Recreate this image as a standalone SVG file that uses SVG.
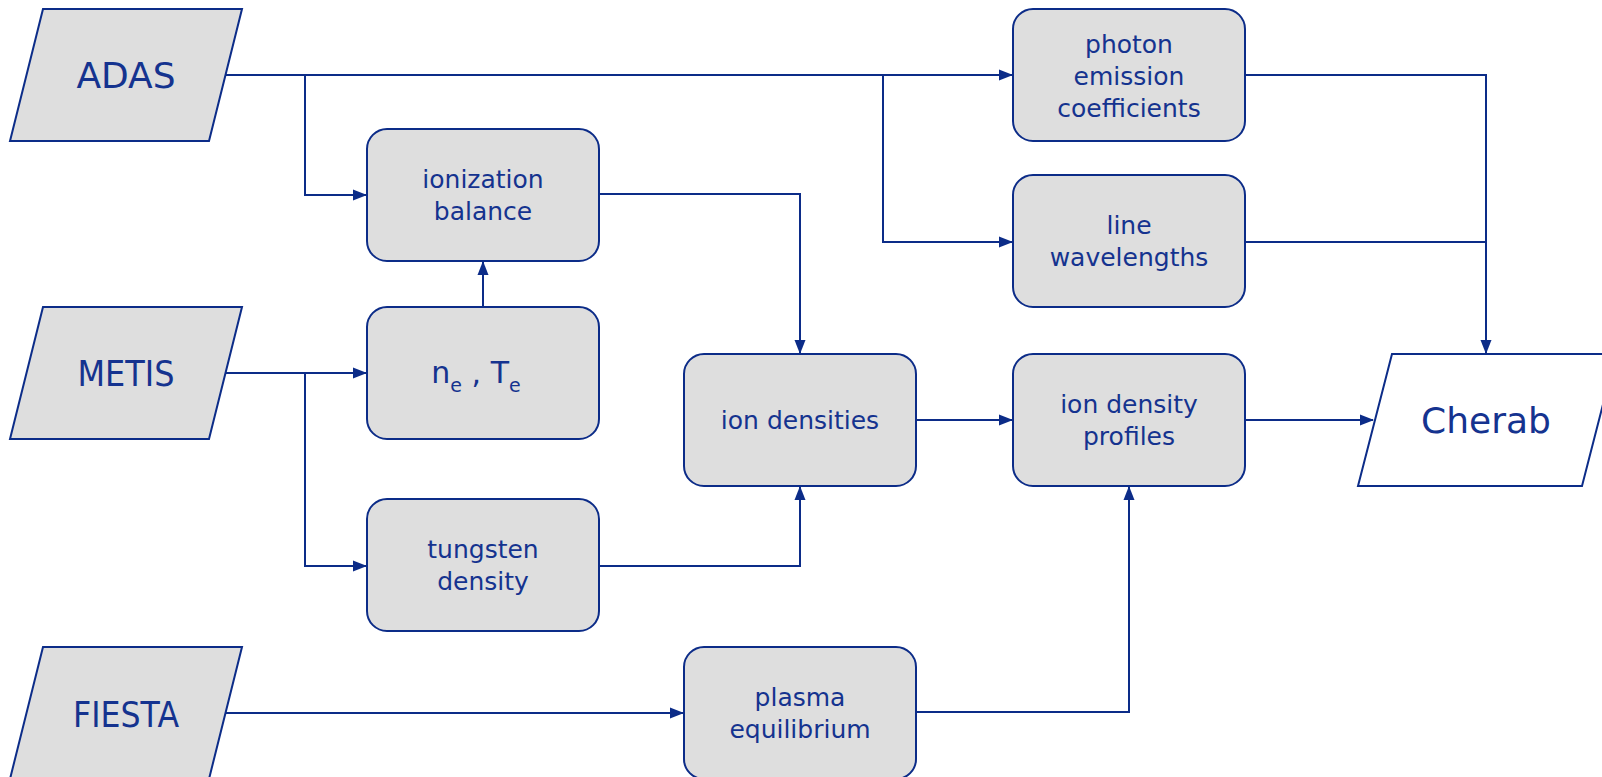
<svg xmlns="http://www.w3.org/2000/svg" width="1602" height="777" viewBox="0 0 1602 777">
<defs>
<style>
.box{fill:#dedede;stroke:#0c2c88;stroke-width:2}
.io{fill:#dedede;stroke:#0c2c88;stroke-width:2}
.out{fill:#ffffff;stroke:#0c2c88;stroke-width:2}
.t{font-family:"DejaVu Sans",sans-serif;font-size:25px;fill:#15338f;text-anchor:middle}
.big{font-family:"DejaVu Sans",sans-serif;font-size:36px;fill:#15338f;text-anchor:middle}
.c{fill:none;stroke:#0c2c88;stroke-width:2}
</style>
<marker id="ah" markerUnits="userSpaceOnUse" markerWidth="14" markerHeight="12" refX="13" refY="6" orient="auto">
<path d="M0,0.5 L14,6 L0,11.5 Z" fill="#0c2c88"/>
</marker>
</defs>
<rect width="1602" height="777" fill="#ffffff"/>

<g id="connectors">
<path class="c" d="M226,75 H1012" marker-end="url(#ah)"/>
<path class="c" d="M305,75 V195 H366" marker-end="url(#ah)"/>
<path class="c" d="M883,75 V242 H1012" marker-end="url(#ah)"/>
<path class="c" d="M599,194 H800 V353" marker-end="url(#ah)"/>
<path class="c" d="M483,307 V262" marker-end="url(#ah)"/>
<path class="c" d="M226,373 H366" marker-end="url(#ah)"/>
<path class="c" d="M305,373 V566 H366" marker-end="url(#ah)"/>
<path class="c" d="M599,566 H800 V487" marker-end="url(#ah)"/>
<path class="c" d="M916,420 H1012" marker-end="url(#ah)"/>
<path class="c" d="M226,713 H683" marker-end="url(#ah)"/>
<path class="c" d="M916,712 H1129 V487" marker-end="url(#ah)"/>
<path class="c" d="M1245,420 H1373" marker-end="url(#ah)"/>
<path class="c" d="M1245,75 H1486 V353" marker-end="url(#ah)"/>
<path class="c" d="M1245,242 H1486"/>
</g>

<g id="adas">
<polygon class="io" points="43,9 242,9 209,141 10,141"/>
<text class="big" x="126" y="88">ADAS</text>
</g>
<g id="metis">
<polygon class="io" points="43,307 242,307 209,439 10,439"/>
<text class="big" x="126" y="386" textLength="97" lengthAdjust="spacingAndGlyphs">METIS</text>
</g>
<g id="fiesta">
<polygon class="io" points="43,647 242,647 209,779 10,779"/>
<text class="big" x="126" y="727" textLength="106" lengthAdjust="spacingAndGlyphs">FIESTA</text>
</g>
<g id="cherab">
<polygon class="out" points="1392,354 1616,354 1582,486 1358,486"/>
<text class="big" x="1486" y="433">Cherab</text>
</g>

<g id="ionization">
<rect class="box" x="367" y="129" width="232" height="132" rx="20"/>
<text class="t" x="483" y="188">ionization</text>
<text class="t" x="483" y="220">balance</text>
</g>
<g id="ne-te">
<rect class="box" x="367" y="307" width="232" height="132" rx="20"/>
<text class="t" x="476" y="383" style="font-size:30px">n<tspan style="font-size:19px" dy="9">e</tspan><tspan dy="-9"> , T</tspan><tspan style="font-size:19px" dy="9">e</tspan></text>
</g>
<g id="tungsten">
<rect class="box" x="367" y="499" width="232" height="132" rx="20"/>
<text class="t" x="483" y="558">tungsten</text>
<text class="t" x="483" y="590">density</text>
</g>
<g id="ion-densities">
<rect class="box" x="684" y="354" width="232" height="132" rx="20"/>
<text class="t" x="800" y="429">ion densities</text>
</g>
<g id="plasma-equilibrium">
<rect class="box" x="684" y="647" width="232" height="132" rx="20"/>
<text class="t" x="800" y="706">plasma</text>
<text class="t" x="800" y="738">equilibrium</text>
</g>
<g id="photon-emission">
<rect class="box" x="1013" y="9" width="232" height="132" rx="20"/>
<text class="t" x="1129" y="53">photon</text>
<text class="t" x="1129" y="85">emission</text>
<text class="t" x="1129" y="117">coefficients</text>
</g>
<g id="line-wavelengths">
<rect class="box" x="1013" y="175" width="232" height="132" rx="20"/>
<text class="t" x="1129" y="234">line</text>
<text class="t" x="1129" y="266">wavelengths</text>
</g>
<g id="ion-density-profiles">
<rect class="box" x="1013" y="354" width="232" height="132" rx="20"/>
<text class="t" x="1129" y="413">ion density</text>
<text class="t" x="1129" y="445">profiles</text>
</g>
</svg>
